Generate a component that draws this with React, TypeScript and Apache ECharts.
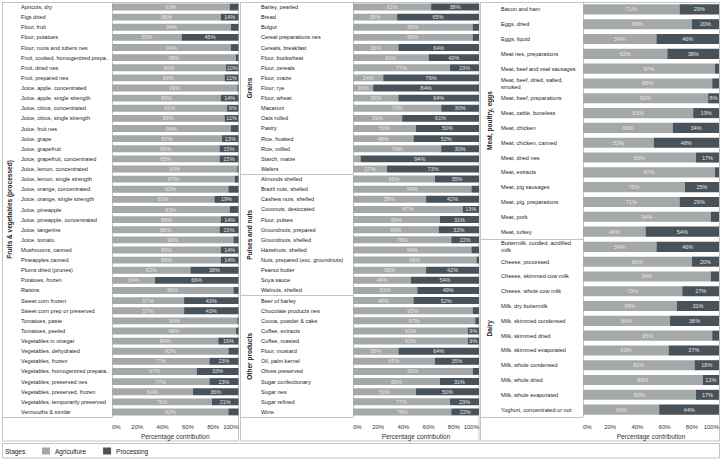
import React, { useEffect, useRef } from "react";
import * as echarts from "echarts";

const FRUIT_CATS = [
  "Apricots, dry", "Figs dried", "Flour, fruit", "Flour, potatoes", "Flour, roots and tubers nes",
  "Fruit, cooked, homogenized prepa..", "Fruit, dried nes", "Fruit, prepared nes", "Juice, apple, concentrated",
  "Juice, apple, single strength", "Juice, citrus, concentrated", "Juice, citrus, single strength",
  "Juice, fruit nes", "Juice, grape", "Juice, grapefruit", "Juice, grapefruit, concentrated",
  "Juice, lemon, concentrated", "Juice, lemon, single strength", "Juice, orange, concentrated",
  "Juice, orange, single strength", "Juice, pineapple", "Juice, pineapple, concentrated", "Juice, tangerine",
  "Juice, tomato", "Mushrooms, canned", "Pineapples canned", "Plums dried (prunes)", "Potatoes, frozen",
  "Raisins", "Sweet corn frozen", "Sweet corn prep or preserved", "Tomatoes, paste", "Tomatoes, peeled",
  "Vegetables in vinegar", "Vegetables, dehydrated", "Vegetables, frozen", "Vegetables, homogenized prepara..",
  "Vegetables, preserved nes", "Vegetables, preserved, frozen", "Vegetables, temporarily preserved",
  "Vermouths & similar",
];
const FRUIT_AGRI = [93, 86, 94, 55, 94, 98, 90, 89, 99, 86, 91, 89, 94, 87, 85, 85, 99, 97, 92, 81, 93, 86, 85, 96, 86, 86, 62, 34, 96, 57, 57, 99, 98, 84, 92, 77, 67, 77, 64, 79, 92];
const FRUIT_PROC = [7, 14, 6, 45, 6, 2, 10, 11, 1, 14, 9, 11, 6, 13, 15, 15, 1, 3, 8, 19, 7, 14, 15, 4, 14, 14, 38, 66, 4, 43, 43, 1, 2, 16, 8, 23, 33, 23, 36, 21, 8];

const GRAIN_CATS = [
  "Barley, pearled", "Bread", "Bulgur", "Cereal preparations nes", "Cereals, breakfast", "Flour, buckwheat",
  "Flour, cereals", "Flour, maize", "Flour, rye", "Flour, wheat", "Macaroni", "Oats rolled", "Pastry",
  "Rice, husked", "Rice, milled", "Starch, maize", "Wafers",
];
const GRAIN_AGRI = [62, 35, 95, 95, 36, 60, 77, 24, 16, 36, 70, 39, 50, 48, 70, 6, 27];
const GRAIN_PROC = [38, 65, 5, 5, 64, 40, 23, 76, 84, 64, 30, 61, 50, 52, 30, 94, 73];

const PULSE_CATS = [
  "Almonds shelled", "Brazil nuts, shelled", "Cashew nuts, shelled", "Coconuts, desiccated", "Flour, pulses",
  "Groundnuts, prepared", "Groundnuts, shelled", "Hazelnuts, shelled", "Nuts, prepared (exc. groundnuts)",
  "Peanut butter", "Soya sauce", "Walnuts, shelled",
];
const PULSE_AGRI = [65, 94, 58, 87, 69, 68, 78, 94, 98, 58, 46, 51];
const PULSE_PROC = [35, 6, 42, 13, 31, 32, 22, 6, 2, 42, 54, 49];

const OTHER_CATS = [
  "Beer of barley", "Chocolate products nes", "Cocoa, powder & cake", "Coffee, extracts", "Coffee, roasted",
  "Flour, mustard", "Oil, palm kernel", "Olives preserved", "Sugar confectionary", "Sugar nes",
  "Sugar refined", "Wine",
];
const OTHER_AGRI = [48, 95, 97, 91, 91, 36, 65, 95, 69, 50, 77, 78];
const OTHER_PROC = [52, 5, 3, 9, 9, 64, 35, 5, 31, 50, 23, 22];

const MEAT_CATS = [
  "Bacon and ham", "Eggs, dried", "Eggs, liquid", "Meat nes, preparations", "Meat, beef and veal sausages",
  "Meat, beef, dried, salted,\nsmoked", "Meat, beef, preparations", "Meat, cattle, boneless", "Meat, chicken",
  "Meat, chicken, canned", "Meat, dried nes", "Meat, extracts", "Meat, pig sausages", "Meat, pig, preparations",
  "Meat, pork", "Meat, turkey",
];
const MEAT_AGRI = [71, 80, 54, 62, 97, 95, 92, 81, 66, 52, 83, 97, 75, 71, 94, 46];
const MEAT_PROC = [29, 20, 46, 38, 3, 5, 8, 19, 34, 48, 17, 3, 25, 29, 6, 54];

const DAIRY_CATS = [
  "Buttermilk, curdled, acidified\nmilk", "Cheese, processed", "Cheese, skimmed cow milk", "Cheese, whole cow milk",
  "Milk, dry buttermilk", "Milk, skimmed condensed", "Milk, skimmed dried", "Milk, skimmed evaporated",
  "Milk, whole condensed", "Milk, whole dried", "Milk, whole evaporated", "Yoghurt, concentrated or not",
];
const DAIRY_AGRI = [54, 80, 94, 73, 69, 64, 95, 63, 82, 88, 83, 56];
const DAIRY_PROC = [46, 20, 6, 27, 31, 36, 5, 37, 18, 12, 17, 44];

const X_TICKS = [0, 20, 40, 60, 80, 100];
const STAGES = ["Agriculture", "Processing"];

const AGRI_COLOR = "#a5a8a8";
const PROC_COLOR = "#47525a";
const FONT = "'Liberation Sans', Arial, sans-serif";

const App: React.FC = () => {
  const ref = useRef<HTMLDivElement>(null);

  useEffect(() => {
    if (!ref.current) return;
    const chart = echarts.init(ref.current, undefined, { renderer: "svg" });

    const facets = [
      { name: "Fruits & vegetables (processed)", cats: FRUIT_CATS, agri: FRUIT_AGRI, proc: FRUIT_PROC, left: 112, width: 126.5, top: 2, height: 415, margin: 91, gap: 99, showX: true, minLab: 9 },
      { name: "Grains", cats: GRAIN_CATS, agri: GRAIN_AGRI, proc: GRAIN_PROC, left: 353, width: 126, top: 2, height: 172, margin: 92, gap: 100, showX: false, minLab: 9 },
      { name: "Pulses and nuts", cats: PULSE_CATS, agri: PULSE_AGRI, proc: PULSE_PROC, left: 353, width: 126, top: 174, height: 121.5, margin: 92, gap: 100, showX: false, minLab: 9 },
      { name: "Other products", cats: OTHER_CATS, agri: OTHER_AGRI, proc: OTHER_PROC, left: 353, width: 126, top: 295.5, height: 121.5, margin: 92, gap: 100, showX: true, minLab: 9 },
      { name: "Meat, poultry, eggs", cats: MEAT_CATS, agri: MEAT_AGRI, proc: MEAT_PROC, left: 583, width: 136, top: 2, height: 237, margin: 82, gap: 90, showX: false, minLab: 8 },
      { name: "Dairy", cats: DAIRY_CATS, agri: DAIRY_AGRI, proc: DAIRY_PROC, left: 583, width: 136, top: 239.5, height: 177.5, margin: 82, gap: 90, showX: true, minLab: 8 },
    ];

    const grid = facets.map((f) => ({
      left: f.left, top: f.top, width: f.width, height: f.height,
      containLabel: false, outerBoundsMode: "none",
    }));
    const xAxis = facets.map((f, i) => ({
      type: "value",
      gridIndex: i,
      min: X_TICKS[0],
      max: X_TICKS[X_TICKS.length - 1],
      interval: X_TICKS[1] - X_TICKS[0],
      show: f.showX,
      axisLine: { show: false },
      axisTick: { show: false },
      splitLine: { show: false },
      axisLabel: {
        formatter: "{value}%", fontSize: 6, color: "#333", margin: 7, fontFamily: FONT,
        alignMinLabel: "left", alignMaxLabel: "right",
      },
      name: "Percentage contribution",
      nameLocation: "middle",
      nameGap: 16,
      nameMoveOverlap: false,
      nameTextStyle: { fontSize: 6.5, color: "#333", fontFamily: FONT },
    }));
    const yAxis = facets.map((f, i) => ({
      type: "category",
      gridIndex: i,
      data: f.cats,
      inverse: true,
      axisLine: { show: true, lineStyle: { color: "#c4c4c4", width: 1 } },
      axisTick: { show: false },
      axisLabel: { align: "left", margin: f.margin, fontSize: 5.6, color: "#222", fontFamily: FONT, lineHeight: 7, hideOverlap: false },
      name: f.name,
      nameLocation: "middle",
      nameRotate: 90,
      nameGap: f.gap,
      nameMoveOverlap: false,
      nameTextStyle: { fontSize: 6.5, fontWeight: "bold", color: "#222", fontFamily: FONT },
    }));

    const series: any[] = [];
    facets.forEach((f, i) => {
      const mk = (nm: string, data: number[], color: string) => ({
        name: nm,
        type: "bar",
        stack: "s" + i,
        xAxisIndex: i,
        yAxisIndex: i,
        data,
        barWidth: "68%",
        itemStyle: { color },
        label: {
          show: true,
          position: "inside",
          fontSize: 5.5,
          color: "#e6e6e6",
          fontFamily: FONT,
          formatter: (p: any) => (p.value >= f.minLab ? p.value + "%" : ""),
        },
      });
      series.push(mk(STAGES[0], f.agri, AGRI_COLOR));
      series.push(mk(STAGES[1], f.proc, PROC_COLOR));
    });

    const border = { stroke: "#c4c4c4", lineWidth: 1, fill: "none" };
    const line = (x1: number, y1: number, x2: number, y2: number) => ({
      type: "line",
      silent: true,
      shape: { x1, y1, x2, y2 },
      style: { stroke: "#c4c4c4", lineWidth: 1 },
    });

    chart.setOption({
      animation: false,
      textStyle: { fontFamily: FONT },
      grid,
      xAxis,
      yAxis,
      series,
      legend: {
        data: STAGES,
        left: 42,
        top: 447.5,
        padding: 0,
        itemWidth: 8,
        itemHeight: 7,
        itemGap: 17,
        icon: "rect",
        textStyle: { fontSize: 6.5, color: "#222", fontFamily: FONT },
        selectedMode: false,
      },
      graphic: [
        { type: "rect", silent: true, shape: { x: 2.5, y: 2.5, width: 236, height: 438.5 }, style: border },
        { type: "rect", silent: true, shape: { x: 240.5, y: 2.5, width: 238.5, height: 438.5 }, style: border },
        { type: "rect", silent: true, shape: { x: 480.5, y: 2.5, width: 239, height: 438.5 }, style: border },
        { type: "rect", silent: true, shape: { x: 2.5, y: 443.5, width: 717, height: 14.5 }, style: border },
        line(2.5, 417.5, 112, 417.5),
        line(240.5, 174.5, 353, 174.5),
        line(240.5, 295.5, 353, 295.5),
        line(240.5, 417.5, 353, 417.5),
        line(480.5, 239.5, 583, 239.5),
        line(480.5, 417.5, 583, 417.5),
        {
          type: "text",
          silent: true,
          x: 5,
          y: 451,
          style: { text: "Stages", fontSize: 6.5, fill: "#222", fontFamily: FONT, verticalAlign: "middle" },
        },
      ],
    });

    return () => chart.dispose();
  }, []);

  return (
    <div
      ref={ref}
      style={{ position: "fixed", left: 0, top: 0, width: 722, height: 462, background: "#fff" }}
    />
  );
};

export default App;
